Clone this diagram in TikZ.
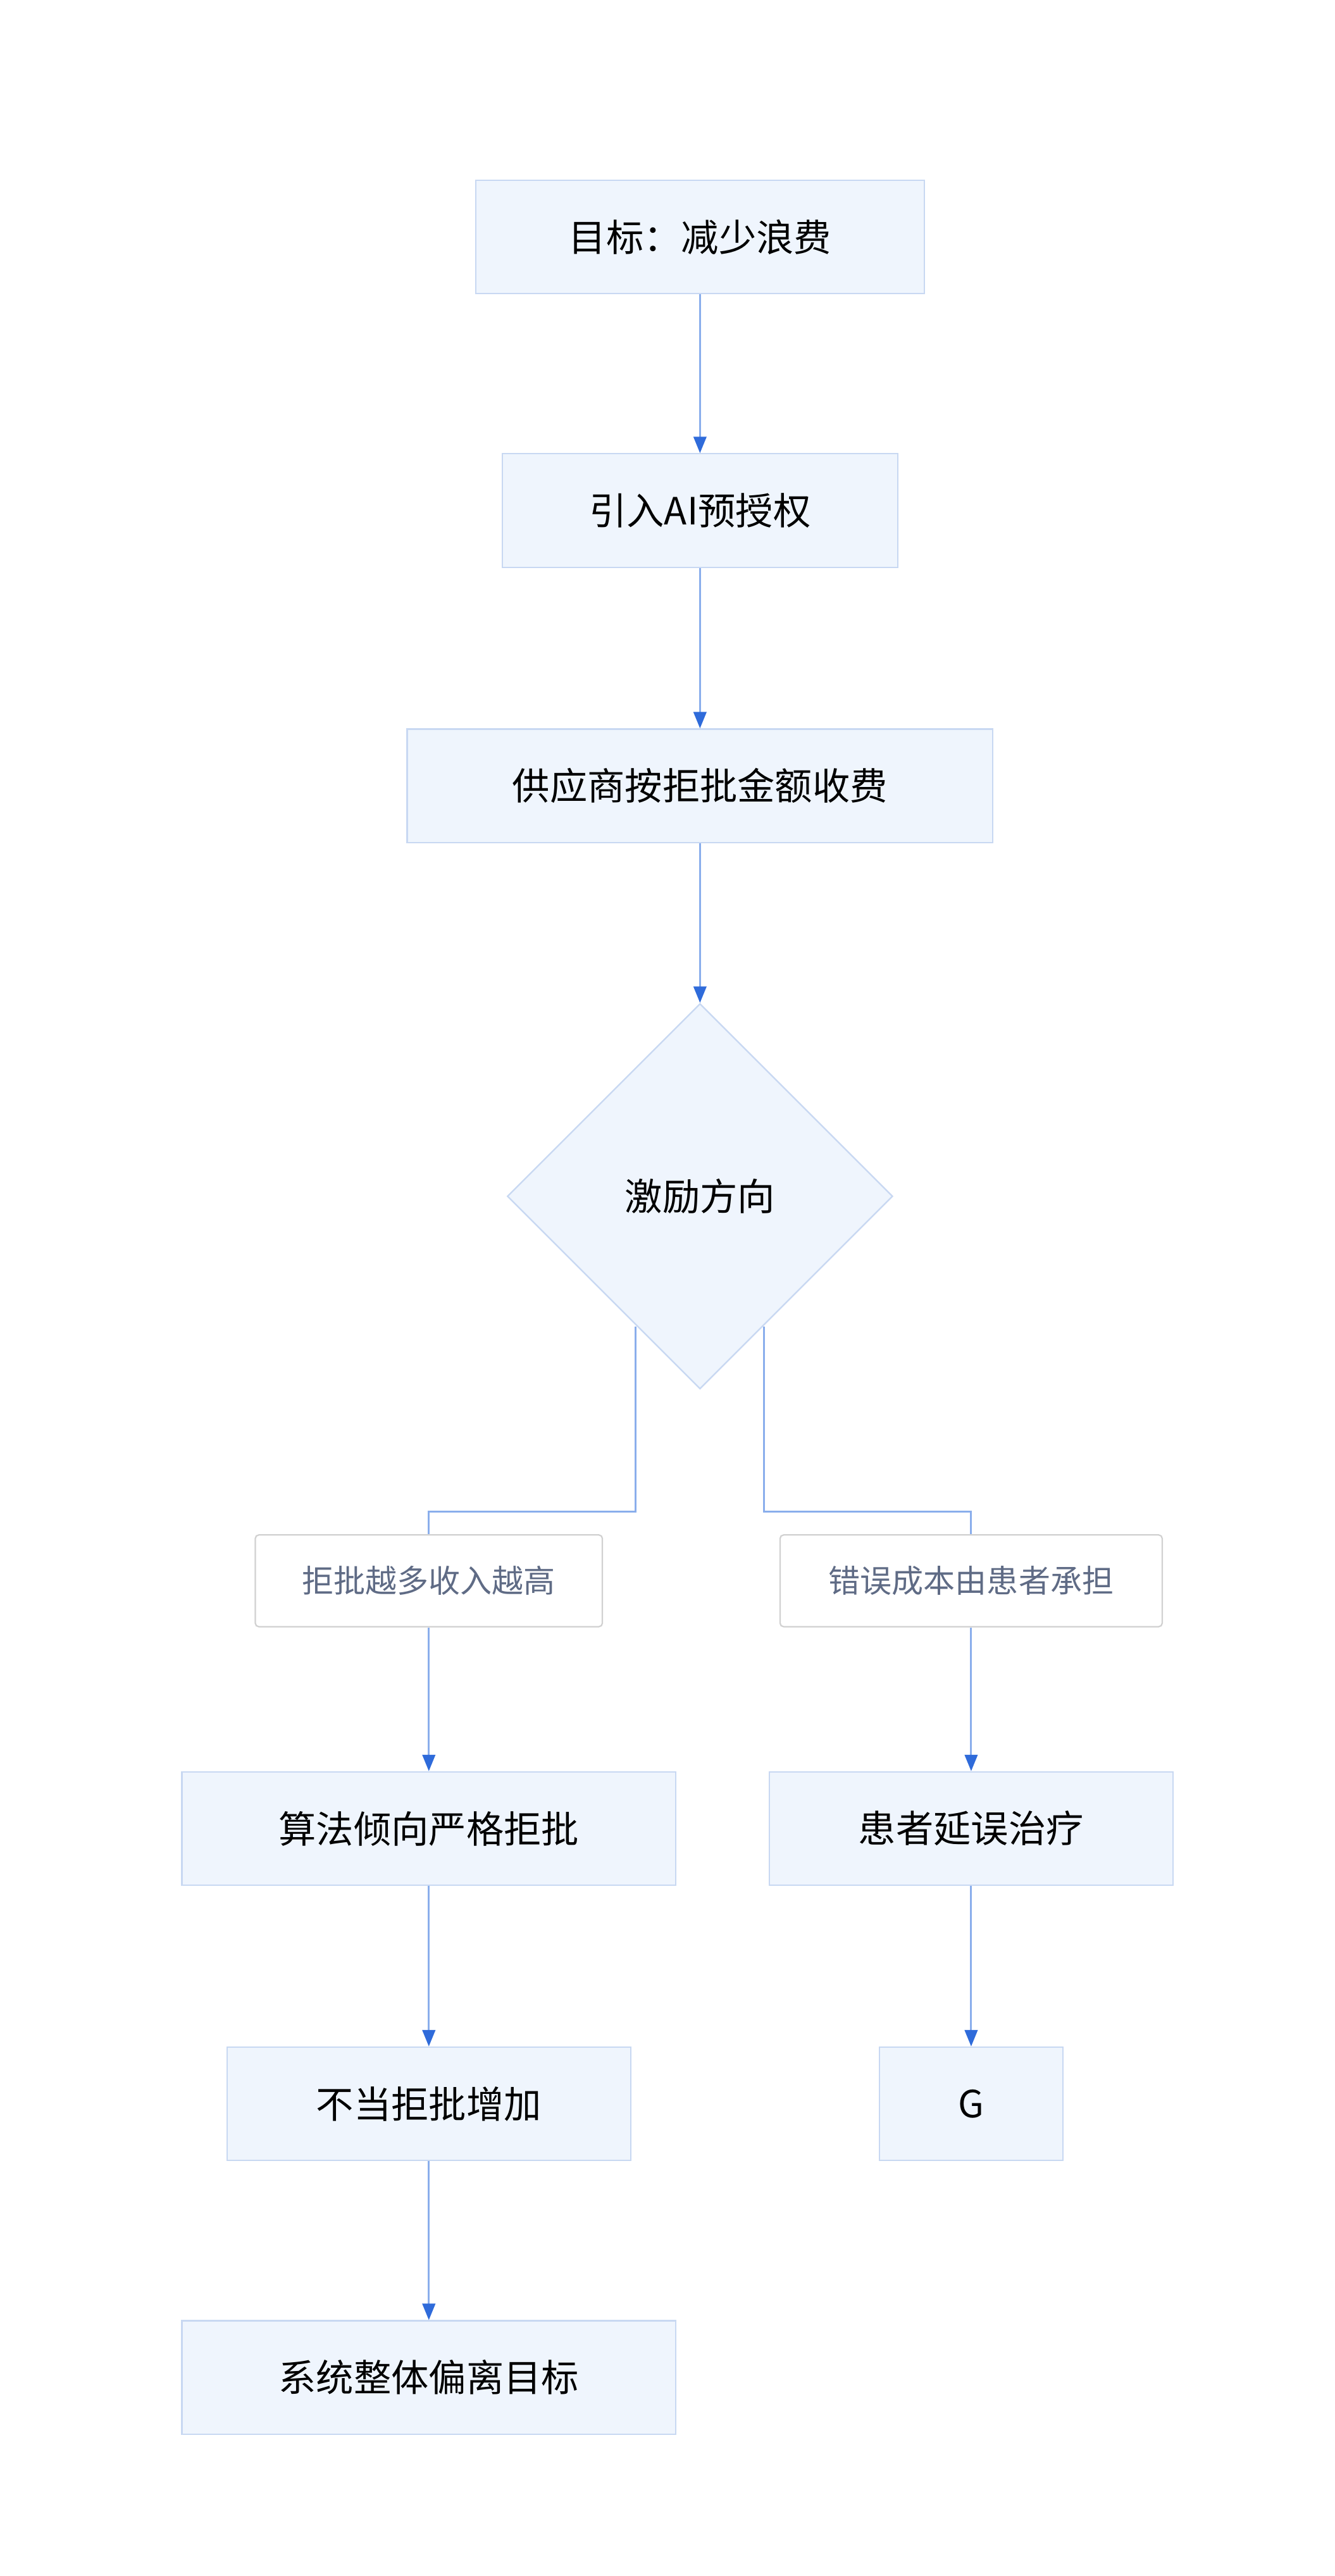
\documentclass[tikz,border=0pt]{standalone}
\usepackage{fontspec}
\setmainfont{Noto Sans CJK SC}
\usetikzlibrary{shapes.geometric,arrows.meta}
\definecolor{nfill}{HTML}{EFF5FD}
\definecolor{nborder}{HTML}{C8D8F2}
\definecolor{lineb}{HTML}{8AAEEC}
\definecolor{tipb}{HTML}{2F6BDA}
\definecolor{lbltext}{HTML}{5F6B85}
\begin{document}
\begin{tikzpicture}[x=0.05cm,y=-0.05cm,
  box/.style={draw=nborder,fill=nfill,line width=1.2pt,inner sep=0,font=\fontsize{32}{36}\selectfont},
  lbl/.style={draw=black!18,fill=white,rounded corners=3pt,line width=1.2pt,inner sep=0,text=lbltext,font=\fontsize{27}{32}\selectfont},
  conn/.style={draw=lineb,line width=1.6pt},
  arr/.style={conn,-{Triangle[length=14pt,width=11pt,color=tipb]}}]
\useasboundingbox (0,0) rectangle (800,1544);
\node[box,minimum width=269*0.05cm,minimum height=68*0.05cm] (A) at (419.5,142) {目标：减少浪费};
\node[box,minimum width=237*0.05cm,minimum height=68*0.05cm] (B) at (419.5,306) {引入AI预授权};
\node[box,minimum width=351*0.05cm,minimum height=68*0.05cm] (C) at (419.5,471) {供应商按拒批金额收费};
\node[box,diamond,minimum width=231*0.05cm,minimum height=231*0.05cm] (D) at (419.5,717) {激励方向};
\node[lbl,minimum width=208*0.05cm,minimum height=55*0.05cm] (L1) at (257,947.5) {拒批越多收入越高};
\node[lbl,minimum width=229*0.05cm,minimum height=55*0.05cm] (L2) at (582,947.5) {错误成本由患者承担};
\node[box,minimum width=296*0.05cm,minimum height=68*0.05cm] (E) at (257,1096) {算法倾向严格拒批};
\node[box,minimum width=242*0.05cm,minimum height=68*0.05cm] (F) at (582,1096) {患者延误治疗};
\node[box,minimum width=242*0.05cm,minimum height=68*0.05cm] (G) at (257,1261) {不当拒批增加};
\node[box,minimum width=110*0.05cm,minimum height=68*0.05cm] (H) at (582,1261) {G};
\node[box,minimum width=296*0.05cm,minimum height=68*0.05cm] (I) at (257,1425) {系统整体偏离目标};
\coordinate (d1) at (381,795);
\coordinate (d2) at (458,795);
\draw[arr] (A) -- (B);
\draw[arr] (B) -- (C);
\draw[arr] (C) -- (D);
\draw[conn] (d1) -- (381,906) -- (257,906) -- (L1.north);
\draw[conn] (d2) -- (458,906) -- (582,906) -- (L2.north);
\draw[arr] (L1) -- (E);
\draw[arr] (L2) -- (F);
\draw[arr] (E) -- (G);
\draw[arr] (G) -- (I);
\draw[arr] (F) -- (H);
\end{tikzpicture}
\end{document}
